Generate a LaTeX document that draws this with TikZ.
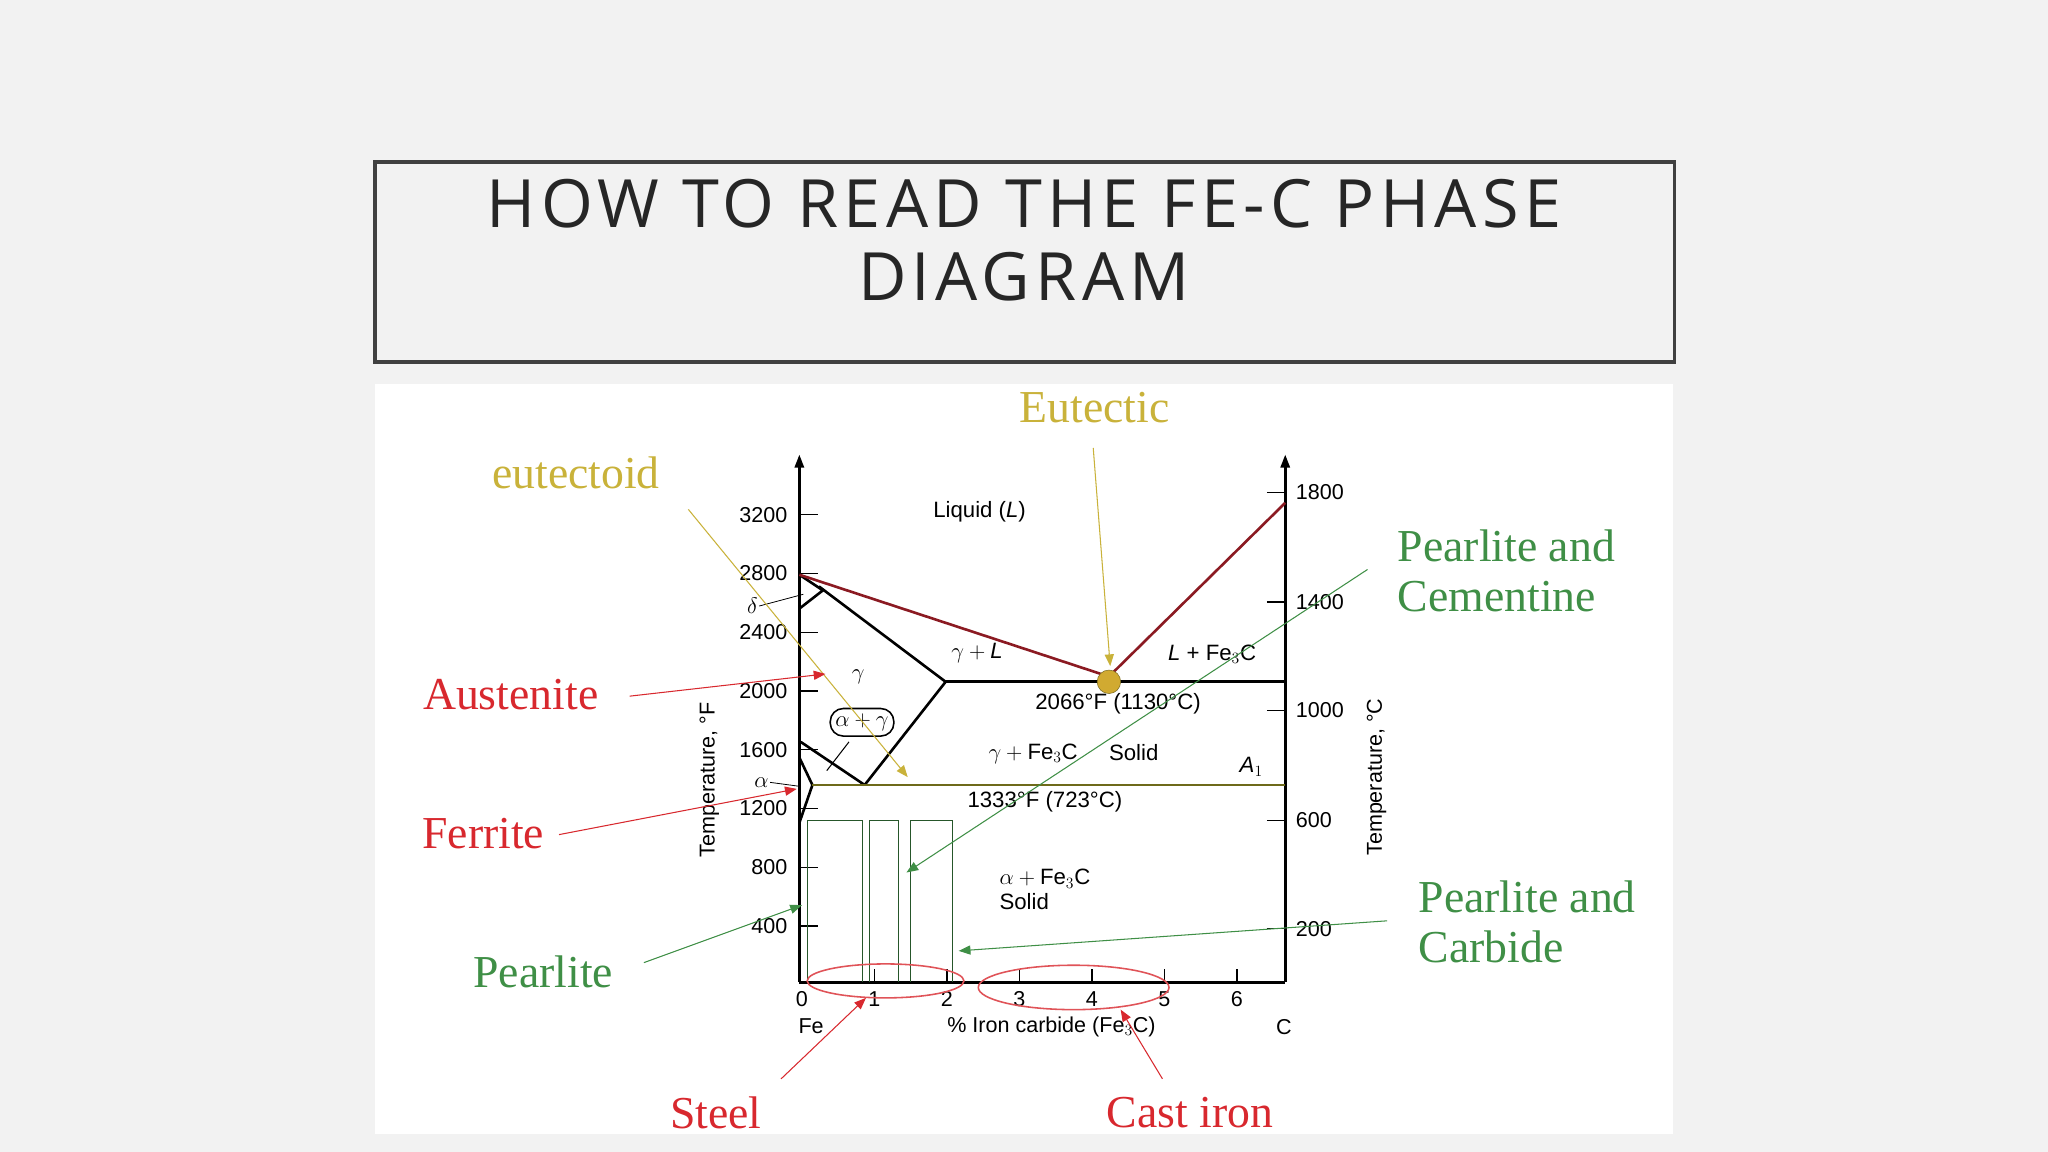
\documentclass[tikz,border=0pt]{standalone}
\usepackage{fontspec}
\setmainfont{Liberation Serif}
\newfontfamily\titlefont[LetterSpace=8]{Open Sans}
\newfontfamily\axfont{Liberation Sans}
\usetikzlibrary{arrows.meta,shapes.geometric}
\definecolor{bg}{HTML}{F2F2F2}
\definecolor{gold}{HTML}{C9B23A}
\definecolor{rd}{HTML}{D8282E}
\definecolor{gr}{HTML}{3F8F46}
\definecolor{olv}{HTML}{6E6A1A}
\definecolor{liq}{HTML}{8B1A22}
\tikzset{
 ann/.style={font=\fontsize{35}{38}\selectfont, inner sep=0pt, align=left},
 ax/.style={font=\axfont\fontsize{16.5}{18}\selectfont, inner sep=1pt},
 ph/.style={font=\axfont\fontsize{17}{19}\selectfont, inner sep=1pt},
 arr/.style={-{Triangle[length=9pt,width=7pt]}, line width=0.8pt},
 phase/.style={line width=2pt, black}
}
\begin{document}
\begin{tikzpicture}[x=1pt,y=-1pt]
\fill[bg] (0,0) rectangle (1568,882);
\useasboundingbox (0,0) rectangle (1568,882);
% title
\draw[line width=3pt, color=black!75] (287,124) rectangle (1282,277);
\node[font=\titlefont\fontsize{51}{56}\selectfont, text=black!85, align=center] (title) at (784,184) {HOW TO READ THE FE-C PHASE\\DIAGRAM};
% image
\fill[white] (287,294) rectangle (1281,868);
% axes
\draw[line width=2pt, -{Triangle[length=10pt,width=7pt]}] (612,752) -- (612,348);
\draw[line width=2pt, -{Triangle[length=10pt,width=7pt]}] (984,752) -- (984,348);
\draw[line width=2pt] (612,752) -- (984,752);
\foreach \v/\y in {3200/394,2800/439,2400/484,2000/529,1600/574,1200/619,800/664,400/709}{
 \draw[line width=1pt] (612,\y) -- (626,\y);
 \node[ax, anchor=east] at (604,\y) {\v};}
\foreach \v/\y in {1800/377,1400/461,1000/544,600/628,200/711}{
 \draw[line width=1pt] (970,\y) -- (984,\y);
 \node[ax, anchor=west] at (991,\y) {\v};}
\foreach \v in {0,...,6}{
 \pgfmathsetmacro\xx{614+55.5*\v}
 \ifnum\v>0 \draw[line width=1pt] (\xx,752) -- (\xx,742);\fi
 \node[ax] at (\xx,765) {\v};}
\node[ax] (fe) at (621,786) {Fe};
\node[ax] (cc) at (983,786) {C};
\node[ax] (xl) at (805,786) {\% Iron carbide (Fe$_3$C)};
\node[ax, rotate=90] (tf) at (543,597) {Temperature, \textdegree F};
\node[ax, rotate=90] (tc) at (1054,595) {Temperature, \textdegree C};
% pearlite bars
\draw[gr!60!black, line width=0.7pt] (618,752) -- (618,628) -- (660,628) -- (660,752);
\draw[gr!60!black, line width=0.7pt] (666,752) -- (666,628) -- (688,628) -- (688,752);
\draw[gr!60!black, line width=0.7pt] (697,752) -- (697,628) -- (729,628) -- (729,752);
% phase lines
\draw[phase] (627,449) -- (724,522) -- (662,601);
\draw[phase] (613,568) -- (662,601);
\draw[phase] (612,440) -- (630,452) -- (612,466);
\draw[phase] (612,580) -- (622,601) -- (612,630);
\draw[phase] (724,522) -- (984,522);
\draw[line width=2pt, olv] (622,601) -- (984,601);
\draw[line width=2pt, liq] (612,440) -- (849,518) -- (984,385);
\node[circle, fill=gold!85!orange, draw=gold!60!black, minimum size=18pt, inner sep=0pt] (eut) at (849,522) {};
\node[ph, draw, rounded corners=10pt, line width=1.2pt, inner sep=4pt] (ag) at (660,553) {$\alpha+\gamma$};
\draw[line width=0.8pt] (650,568) -- (633,590);
\node[ph] (delta) at (576,464) {$\delta$};
\draw[line width=0.6pt] (delta.east) -- (615,455);
\node[ph] (alpha) at (583,599) {$\alpha$};
\draw[line width=0.6pt] (alpha.east) -- (612,602);
\node[ph] (liqL) at (750,392) {Liquid (\textit{L})};
\node[ph] (gL) at (748,500) {$\gamma+\textit{L}$};
\node[ph] (LF) at (928,501) {\textit{L} + Fe$_3$C};
\node[ph] (gam) at (657,518) {$\gamma$};
\node[ph] (t1) at (856,539) {2066\textdegree F (1130\textdegree C)};
\node[ph] (gF) at (791,577) {$\gamma+{}$Fe$_3$C};
\node[ph] (sol1) at (868,576) {Solid};
\node[ph] (a1) at (958,587) {\textit{A}$_1$};
\node[ph] (t2) at (800,614) {1333\textdegree F (723\textdegree C)};
\node[ph, align=left] (aF) at (800,681) {$\alpha+{}$Fe$_3$C\\Solid};
% ellipses
\draw[rd!80, line width=1.2pt] (678,751) ellipse [x radius=60, y radius=13];
\draw[rd!80, line width=1.2pt] (822,756) ellipse [x radius=73, y radius=17];
% annotations
\node[ann, text=gold] (eutT) at (838,312) {Eutectic};
\node[ann, text=gold] (eutd) at (441,362) {eutectoid};
\node[ann, text=rd] (aus) at (391,532) {Austenite};
\node[ann, text=rd] (fer) at (370,638) {Ferrite};
\node[ann, text=gr] (pea) at (416,744) {Pearlite};
\node[ann, text=gr, anchor=west] (pc) at (1070,437) {Pearlite and\\Cementine};
\node[ann, text=gr, anchor=west] (pcb) at (1086,706) {Pearlite and\\Carbide};
\node[ann, text=rd] (steel) at (548,852) {Steel};
\node[ann, text=rd] (cast) at (911,852) {Cast iron};
\coordinate (c1) at (850,510); \coordinate (c2) at (695,595);
\coordinate (c3) at (632,516); \coordinate (c4) at (610,604);
\coordinate (c5) at (614,693); \coordinate (c6) at (694,668);
\coordinate (c7) at (734,728); \coordinate (c8) at (663,764);
\coordinate (c9) at (858,773);
\draw[arr, gold] (837,343) -- (c1);
\draw[arr, gold] (527,390) -- (c2);
\draw[arr, rd] (482,533) -- (c3);
\draw[arr, rd] (428,639) -- (c4);
\draw[arr, gr] (493,737) -- (c5);
\draw[arr, gr] (1047,436) -- (c6);
\draw[arr, gr] (1062,705) -- (c7);
\draw[arr, rd] (598,826) -- (c8);
\draw[arr, rd] (890,826) -- (c9);
\end{tikzpicture}
\end{document}
